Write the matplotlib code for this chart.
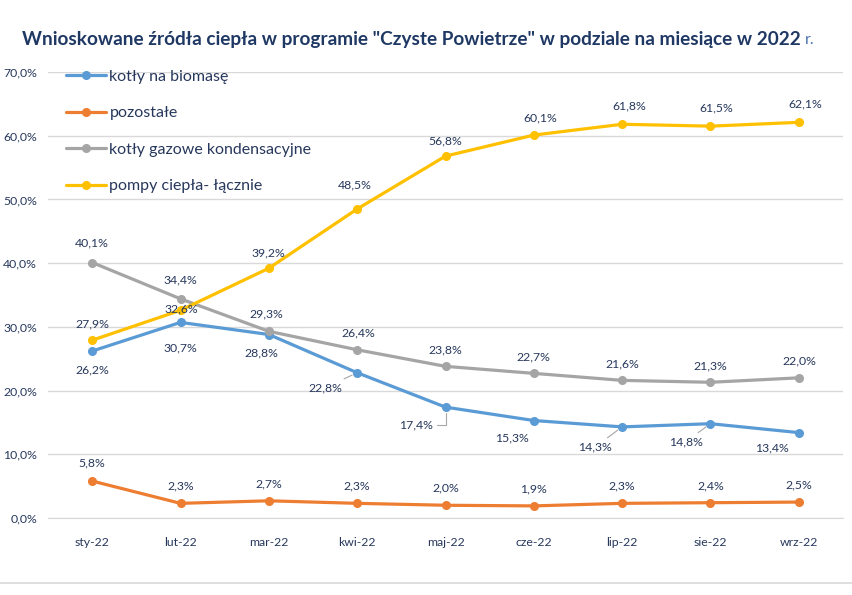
import matplotlib.pyplot as plt
from matplotlib.lines import Line2D
from matplotlib.ticker import FuncFormatter, MultipleLocator


months = ["sty-22", "lut-22", "mar-22", "kwi-22", "maj-22", "cze-22", "lip-22", "sie-22", "wrz-22"]

biomasa = [26.2, 30.7, 28.8, 22.8, 17.4, 15.3, 14.3, 14.8, 13.4]
pozostale = [5.8, 2.3, 2.7, 2.3, 2.0, 1.9, 2.3, 2.4, 2.5]
gazowe = [40.1, 34.4, 29.3, 26.4, 23.8, 22.7, 21.6, 21.3, 22.0]
pompy = [27.9, 32.6, 39.2, 48.5, 56.8, 60.1, 61.8, 61.5, 62.1]

series_names = ["kotły na biomasę", "pozostałe", "kotły gazowe kondensacyjne", "pompy ciepła- łącznie"]

TEXT = "#27385C"
GRID = "#D9D9D9"
COLORS = ["#5B9BD5", "#ED7D31", "#A5A5A5", "#FFC000"]

# label offsets in pixels (dx, dy) and whether a leader line is drawn
offs_biomasa = [(0, -19), (0, -26), (-7, -18), (-32, -15), (-30, -18), (-22, -17), (-27, -20), (-25, -18), (-27, -15)]
lead_biomasa = [False, False, False, True, True, False, True, True, False]
offs_pozostale = [(0, 18)] + [(0, 17)] * 8
offs_gazowe = [(0, 20), (0, 19), (-3, 17), (1, 17), (0, 16), (0, 16), (0, 16), (0, 16), (1, 17)]
offs_pompy = [(0, 16), (1, 1), (0, 15), (-2, 24), (0, 15), (6, 17), (7, 18), (6, 18), (6, 18)]

plt.rcParams["font.family"] = ["Lato", "DejaVu Sans"]


def fmt_pct(v):
    return f"{v:.1f}%".replace(".", ",")


def main():
    fig = plt.figure(figsize=(8.52, 5.95), dpi=100)
    ax = fig.add_axes([48 / 852, 1 - 518 / 595, 795 / 852, 446 / 595])

    x = list(range(len(months)))
    all_series = [biomasa, pozostale, gazowe, pompy]
    all_offs = [offs_biomasa, offs_pozostale, offs_gazowe, offs_pompy]

    for vals, name, color in zip(all_series, series_names, COLORS):
        ax.plot(x, vals, color=color, lw=2.3, marker="o", ms=5.5, label=name,
                solid_capstyle="round", zorder=3)

    for s, (vals, offs) in enumerate(zip(all_series, all_offs)):
        for i, (v, (dx, dy)) in enumerate(zip(vals, offs)):
            arrow = None
            if s == 0 and lead_biomasa[i]:
                style = "angle,angleA=0,angleB=90,rad=0" if i == 4 else "arc3"
                arrow = dict(arrowstyle="-", color="#A6A6A6", lw=0.8,
                             shrinkA=1, shrinkB=4, connectionstyle=style)
            ax.annotate(fmt_pct(v), xy=(i, v), xytext=(dx, dy),
                        textcoords="offset pixels", ha="center", va="center",
                        fontsize=8.8, color=TEXT, arrowprops=arrow,
                        annotation_clip=False, zorder=4)

    ax.set_xlim(-0.5, len(months) - 0.5)
    ax.set_ylim(0, 70)
    ax.yaxis.set_major_locator(MultipleLocator(10))
    ax.yaxis.set_major_formatter(FuncFormatter(lambda v, p: fmt_pct(v)))
    ax.set_xticks(x)
    ax.set_xticklabels(months)
    ax.tick_params(axis="both", length=0, labelsize=8.8, labelcolor=TEXT)
    ax.tick_params(axis="x", pad=14)
    ax.tick_params(axis="y", pad=8)
    ax.grid(axis="y", color=GRID, lw=1)
    ax.set_axisbelow(True)
    for side in ["top", "right", "left"]:
        ax.spines[side].set_visible(False)
    ax.spines["bottom"].set_color(GRID)

    leg = ax.legend(loc="upper left", bbox_to_anchor=(0.015, 1.02), frameon=False,
                    fontsize=11.5, labelspacing=1.4, handlelength=2.5,
                    handletextpad=0.2, borderaxespad=0)
    for t in leg.get_texts():
        t.set_color(TEXT)

    title = fig.text(22 / 852, 1 - 40 / 595,
                     'Wnioskowane źródła ciepła w programie "Czyste Powietrze" w podziale na miesiące w 2022',
                     ha="left", va="center", fontsize=13.7, fontweight="bold", color="#1F3864")
    fig.canvas.draw()
    bb = title.get_window_extent()
    fig.text((bb.x1 + 4) / 852, 1 - 40 / 595, "r.", ha="left", va="center",
             fontsize=11.5, color="#4A72B0")

    fig.add_artist(Line2D([0, 1], [1 - 583 / 595] * 2, color="#D9D9D9", lw=1.2))

    fig.savefig("out.png", dpi=100)
    plt.close(fig)


if __name__ == "__main__":
    main()
